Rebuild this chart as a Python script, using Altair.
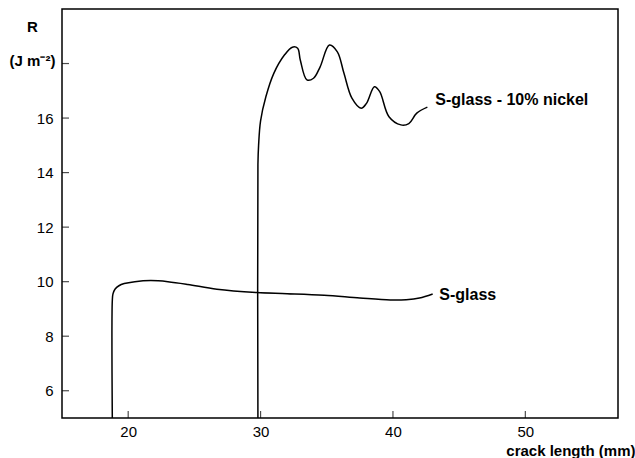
import altair as alt
import pandas as pd

# S-glass curve
sglass_x = [18.8, 18.8, 18.85, 19.0, 19.3, 19.7, 20.5, 21.7, 23.0, 24.5, 26.7, 29.7, 32.0, 34.8, 37.5, 39.8, 41.0, 42.0, 43.0]
sglass_y = [5.0, 9.3, 9.55, 9.72, 9.85, 9.93, 10.0, 10.04, 10.0, 9.9, 9.72, 9.6, 9.56, 9.5, 9.4, 9.33, 9.34, 9.4, 9.55]

# S-glass - 10% nickel curve
nickel_x = [29.8, 29.8, 29.85, 30.0, 30.4, 31.0, 31.8, 32.4, 32.8, 33.0, 33.5, 34.0, 34.5, 35.2, 35.8, 36.3, 36.9, 37.6, 38.0, 38.6, 39.0, 39.7, 40.6, 41.2, 41.8, 42.6]
nickel_y = [5.0, 14.3, 15.0, 15.9, 16.78, 17.64, 18.31, 18.60, 18.56, 18.13, 17.40, 17.46, 17.88, 18.68, 18.43, 17.64, 16.73, 16.36, 16.54, 17.15, 16.97, 16.05, 15.75, 15.8, 16.18, 16.40]

# curve labels
label_text = ["S-glass - 10% nickel", "S-glass"]
label_x = [43.2, 43.5]
label_y = [16.66, 9.51]

x_ticks = [20, 30, 40, 50]
y_ticks = [6, 8, 10, 12, 14, 16, 18]
y_labels = [6, 8, 10, 12, 14, 16]

rows = []
for i, (x, y) in enumerate(zip(sglass_x, sglass_y)):
    rows.append({"series": "S-glass", "x": x, "y": y, "o": i})
for i, (x, y) in enumerate(zip(nickel_x, nickel_y)):
    rows.append({"series": "nickel", "x": x, "y": y, "o": i})
df = pd.DataFrame(rows)

labels_df = pd.DataFrame({"text": label_text, "x": label_x, "y": label_y})
xt_df = pd.DataFrame({"v": x_ticks})
yt_df = pd.DataFrame({"v": y_ticks})

FONT = "Liberation Sans"
xscale = alt.Scale(domain=[15, 57], nice=False, zero=False)
yscale = alt.Scale(domain=[5, 20], nice=False, zero=False)

lines = alt.Chart(df).mark_line(
    interpolate="catmull-rom", color="black", strokeWidth=1.5
).encode(
    x=alt.X("x:Q", scale=xscale, axis=alt.Axis(
        values=x_ticks, tickSize=0, domain=False, grid=False,
        labelFontSize=15, labelFont=FONT, labelColor="black", labelPadding=6,
        title="crack length (mm)", titleFont=FONT, titleFontSize=15,
        titleFontWeight="bold", titleColor="black", titleAnchor="end",
        titleAlign="right", titleBaseline="alphabetic", titleX=573, titleY=37)),
    y=alt.Y("y:Q", scale=yscale, axis=alt.Axis(
        values=y_labels, tickSize=0, domain=False, grid=False,
        labelFontSize=15, labelFont=FONT, labelColor="black", labelPadding=9,
        title=["R", "(J m⁻²)"], titleFont=FONT, titleFontSize=15,
        titleFontWeight="bold", titleColor="black", titleAngle=0,
        titleAlign="center", titleBaseline="middle", titleX=-30, titleY=17,
        titleLineHeight=34)),
    detail="series:N",
    order="o:Q",
)

yticks = alt.Chart(yt_df).mark_tick(
    color="black", thickness=1.2, size=7, orient="horizontal"
).encode(y=alt.Y("v:Q", scale=yscale), x=alt.value(3.5))

xticks = alt.Chart(xt_df).mark_tick(
    color="black", thickness=1.2, size=7, orient="vertical"
).encode(x=alt.X("v:Q", scale=xscale), y=alt.value(405.5))

texts = alt.Chart(labels_df).mark_text(
    align="left", baseline="middle", font=FONT, fontSize=16,
    fontWeight="bold", color="black"
).encode(x=alt.X("x:Q", scale=xscale), y=alt.Y("y:Q", scale=yscale), text="text:N")

chart = alt.layer(lines, yticks, xticks, texts).properties(
    width=556, height=409,
    autosize=alt.AutoSizeParams(type="none"),
    padding={"left": 62, "top": 9, "right": 17, "bottom": 40},
    background="white",
).configure_view(stroke="black", strokeWidth=1.5)

chart.save("out.html", embed_options={"renderer": "svg", "actions": False})
